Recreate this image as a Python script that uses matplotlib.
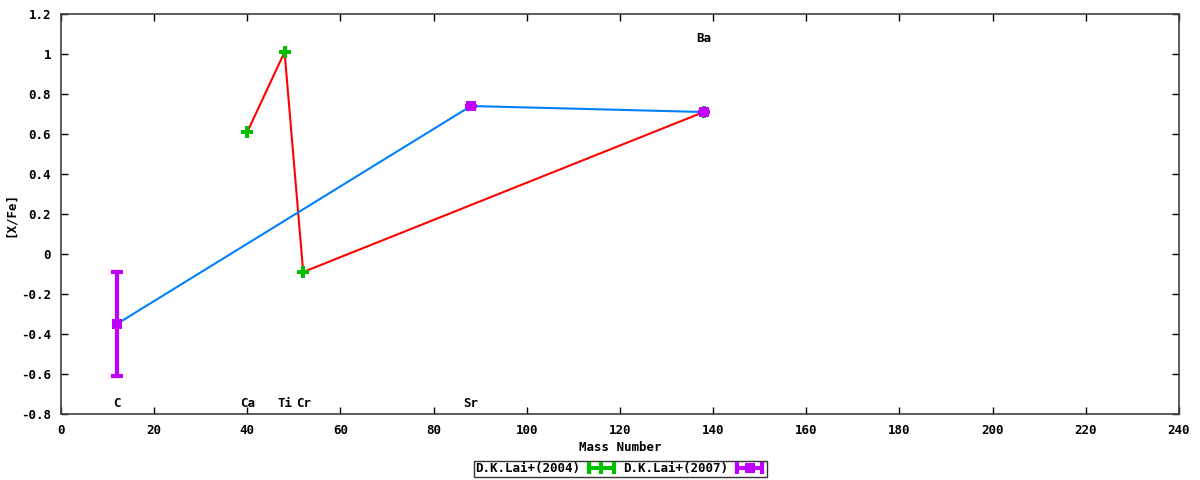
import matplotlib
matplotlib.use("Agg")
import matplotlib.pyplot as plt
from matplotlib.lines import Line2D
from matplotlib.legend_handler import HandlerLine2D

plt.rcParams["font.family"] = ["DejaVu Sans Mono"]
plt.rcParams["font.weight"] = "bold"

# D.K.Lai+(2004): Ca, Ti, Cr, Ba
mass_2004 = [40, 48, 52, 138]
xfe_2004 = [0.61, 1.01, -0.09, 0.71]

# D.K.Lai+(2007): C, Sr, Ba
mass_2007 = [12, 88, 138]
xfe_2007 = [-0.35, 0.74, 0.71]
err_2007 = [0.26, 0.0, 0.0]

# element labels
elements = ["C", "Ca", "Ti", "Cr", "Sr", "Ba"]
elem_mass = [12, 40, 48, 52, 88, 138]
elem_y = [-0.745, -0.745, -0.745, -0.745, -0.745, 1.08]

GREEN = "#00c000"
PURPLE = "#c000ff"

fig = plt.figure(figsize=(12, 4.8), dpi=100)
ax = fig.add_axes([0.0508, 0.1375, 0.9317, 0.8333])

ax.plot(mass_2004, xfe_2004, "-", color="#ff0000", linewidth=1.5, zorder=2)
ax.plot(mass_2004, xfe_2004, "P", color=GREEN, markersize=8,
        markeredgewidth=0, zorder=3)

ax.plot(mass_2007, xfe_2007, "-", color="#0080ff", linewidth=1.5, zorder=2)
ax.errorbar(mass_2007, xfe_2007, yerr=err_2007, fmt="none", ecolor=PURPLE,
            elinewidth=3, capsize=4, capthick=3, zorder=4)
ax.plot(mass_2007, xfe_2007, "s", color=PURPLE, markersize=7,
        markeredgewidth=0, zorder=5)

for name, m, y in zip(elements, elem_mass, elem_y):
    ax.text(m, y, name, ha="center", va="center", fontsize=9,
            fontweight="bold")

ax.set_xlim(0, 240)
ax.set_ylim(-0.8, 1.2)
ax.set_xticks(range(0, 241, 20))
ax.set_yticks([-0.8, -0.6, -0.4, -0.2, 0, 0.2, 0.4, 0.6, 0.8, 1.0, 1.2])
ax.set_yticklabels(["-0.8", "-0.6", "-0.4", "-0.2", "0", "0.2", "0.4",
                    "0.6", "0.8", "1", "1.2"])
ax.tick_params(direction="in", top=True, right=True, length=5, width=1,
               labelsize=9, pad=7)
for s in ax.spines.values():
    s.set_color("#404040")
    s.set_linewidth(1.2)

ax.set_xlabel("Mass Number", fontsize=9, fontweight="bold", labelpad=3)
ax.set_ylabel("[X/Fe]", fontsize=9, fontweight="bold")
ax.yaxis.set_label_coords(-0.039, 0.5)

# legend samples in gnuplot errorbar style: bar with end caps + point
cap1 = Line2D([], [], color=GREEN, linewidth=3, marker="|", markersize=9,
              markeredgewidth=3)
pt1 = Line2D([], [], color=GREEN, linestyle="none", marker="P",
             markersize=8, markeredgewidth=0)
cap2 = Line2D([], [], color=PURPLE, linewidth=3, marker="|", markersize=9,
              markeredgewidth=3)
pt2 = Line2D([], [], color=PURPLE, linestyle="none", marker="s",
             markersize=7, markeredgewidth=0)
leg = fig.legend([(cap1, pt1), (cap2, pt2)],
                 ["D.K.Lai+(2004)", "D.K.Lai+(2007)"],
                 loc="center", bbox_to_anchor=(0.517, 0.023), ncol=2,
                 numpoints=2,
                 handler_map={pt1: HandlerLine2D(numpoints=1),
                              pt2: HandlerLine2D(numpoints=1)},
                 markerfirst=False, frameon=True, fancybox=False,
                 fontsize=9, handlelength=2.6, columnspacing=0.5,
                 handletextpad=0.4, borderpad=0.1, borderaxespad=0)
leg.get_frame().set_edgecolor("black")
leg.get_frame().set_linewidth(1.0)

plt.savefig("out.png", dpi=100)
plt.close(fig)
